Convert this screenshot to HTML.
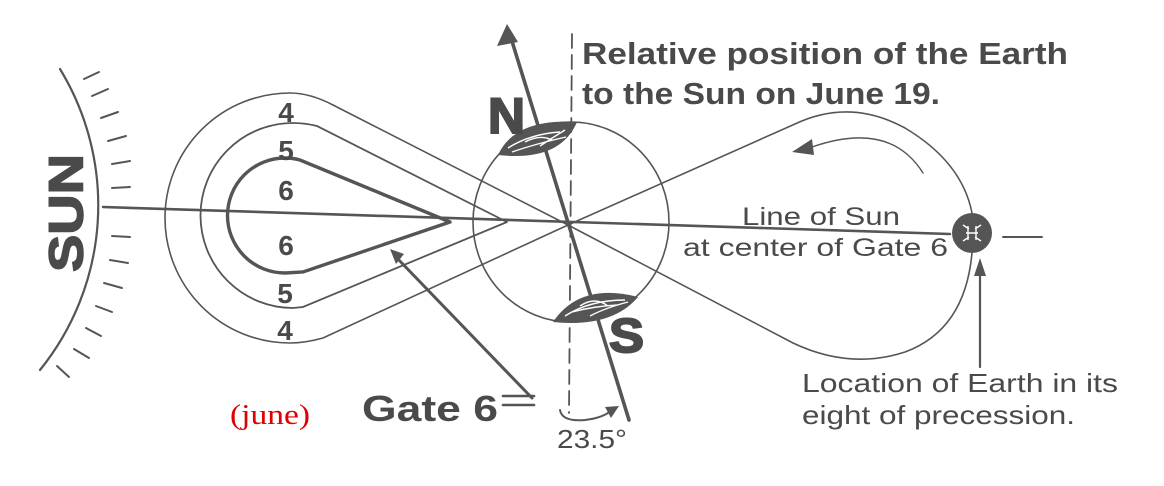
<!DOCTYPE html>
<html><head><meta charset="utf-8"><style>
html,body{margin:0;padding:0;background:#fff;}
svg{display:block;}
text{font-family:"Liberation Sans",Arial,sans-serif;fill:#4a4a4a;}
</style></head><body>
<svg width="1164" height="486" viewBox="0 0 1164 486" xmlns="http://www.w3.org/2000/svg">
<g fill="none" stroke="#555" stroke-linecap="round">
<path d="M60,69 A262,262 0 0 1 40,370" stroke-width="2.2"/>
<g stroke-width="2">
<line x1="84" y1="79" x2="99" y2="72"/>
<line x1="92" y1="96" x2="108" y2="89"/>
<line x1="101" y1="118" x2="118" y2="112"/>
<line x1="108" y1="141" x2="126" y2="136"/>
<line x1="112" y1="164" x2="130" y2="161"/>
<line x1="112" y1="188" x2="130" y2="187"/>
<line x1="112" y1="236" x2="130" y2="237"/>
<line x1="110" y1="260" x2="128" y2="263"/>
<line x1="104" y1="283" x2="122" y2="288"/>
<line x1="96" y1="306" x2="112" y2="312"/>
<line x1="86" y1="328" x2="101" y2="336"/>
<line x1="74" y1="349" x2="89" y2="358"/>
<line x1="57" y1="366" x2="69" y2="377"/>
</g>
<line x1="103" y1="207" x2="950" y2="234" stroke-width="2.6"/>
<path d="M568,225 L333,105 Q310,93 290,93 A125,125 0 0 0 290,343 Q305,343 323,338 L568,225" stroke-width="1.6"/>
<path d="M507,222 L317,126 Q305,123 293,123 A92,92 0 0 0 293,308 L303,307 L507,222" stroke-width="1.8"/>
<path d="M450,222 L300,160 Q293,158 285,158 A57,57 0 0 0 285,273 L303,272 L450,222" stroke-width="3.4"/>
<ellipse cx="571" cy="222" rx="98" ry="100" stroke-width="1.6"/>
<path d="M568,225 L795,124 Q850,98 905,128 Q962,162 972,213" stroke-width="1.6"/>
<path d="M972,253 Q965,330 905,352 Q850,370 793,343 L568,225" stroke-width="1.6"/>
<path d="M923,173 Q890,120 812,147" stroke-width="1.4"/>
<line x1="1003" y1="237" x2="1042" y2="237" stroke-width="2"/>
<line x1="980" y1="367" x2="980" y2="268" stroke-width="2.2"/>
<line x1="572" y1="34" x2="569" y2="413" stroke-width="1.8" stroke-dasharray="14,7"/>
<line x1="396" y1="257" x2="532" y2="398" stroke-width="3"/>
<line x1="503" y1="396" x2="534" y2="396" stroke-width="2.6"/>
<line x1="503" y1="405" x2="534" y2="405" stroke-width="2.6"/>
<path d="M560,410 Q562,422 585,420 Q603,418 612,410" stroke-width="2"/>
</g>
<g fill="#555" stroke="none">
<line x1="511" y1="38" x2="629" y2="420" stroke="#555" stroke-width="3.6" stroke-linecap="round"/>
<polygon points="507,24 497,46 518,42"/>
<path d="M498,155 Q515,118 577,122 Q560,162 498,155 Z"/>
<path d="M553,322 Q580,282 638,297 Q612,328 553,322 Z"/>
<polygon points="792,152 812,139 814,155"/>
<polygon points="980,258 974,276 986,276"/>
<polygon points="390,249 404,254 396,264"/>
<polygon points="619,406 605,407 611,418"/>
<circle cx="972" cy="233" r="20"/>
</g>
<g stroke="#fff" stroke-width="1.4" fill="none">
<path d="M508,148 Q530,134 560,132 M512,152 Q535,144 566,137 M525,142 Q540,134 552,140 M540,146 Q552,138 565,130"/>
<path d="M565,316 Q590,300 625,300 M572,312 Q595,306 618,305 M580,306 Q595,296 608,306 M590,316 Q605,308 628,302"/>
<path d="M963,225 L969,229 M963,241 L969,237 M981,225 L975,229 M981,241 L975,237 M968,226 L968,240 M976,226 L976,240 M966,233 L978,233"/>
</g>
<text x="67" y="213" font-size="48" font-weight="bold" text-anchor="middle" transform="rotate(-90 67 213)" dominant-baseline="central" textLength="118" lengthAdjust="spacingAndGlyphs" stroke="#4a4a4a" stroke-width="1.5">SUN</text>
<g font-size="28" font-weight="bold" text-anchor="middle">
<text x="286" y="122">4</text>
<text x="286" y="160">5</text>
<text x="286" y="200">6</text>
<text x="286" y="255">6</text>
<text x="285" y="303">5</text>
<text x="285" y="340">4</text>
</g>
<text x="488" y="133" font-size="50" font-weight="bold" textLength="37" lengthAdjust="spacingAndGlyphs" stroke="#4a4a4a" stroke-width="2">N</text>
<text x="609" y="352" font-size="48" font-weight="bold" textLength="35" lengthAdjust="spacingAndGlyphs" stroke="#4a4a4a" stroke-width="2">S</text>
<text x="582" y="64" font-size="31" font-weight="bold" textLength="486" lengthAdjust="spacingAndGlyphs">Relative position of the Earth</text>
<text x="582" y="104" font-size="31" font-weight="bold" textLength="358" lengthAdjust="spacingAndGlyphs">to the Sun on June 19.</text>
<text x="742" y="225" font-size="25" textLength="158" lengthAdjust="spacingAndGlyphs">Line of Sun</text>
<text x="683" y="256" font-size="25" textLength="265" lengthAdjust="spacingAndGlyphs">at center of Gate 6</text>
<text x="802" y="392" font-size="26" textLength="316" lengthAdjust="spacingAndGlyphs">Location of Earth in its</text>
<text x="802" y="424" font-size="26" textLength="273" lengthAdjust="spacingAndGlyphs">eight of precession.</text>
<text x="362" y="421" font-size="36" font-weight="bold" textLength="136" lengthAdjust="spacingAndGlyphs">Gate 6</text>
<text x="557" y="448" font-size="26" textLength="70" lengthAdjust="spacingAndGlyphs">23.5°</text>
<text x="230" y="424" font-size="29" style="font-family:'Liberation Serif',serif;fill:#e00000" textLength="80" lengthAdjust="spacingAndGlyphs">(june)</text>
</svg>
</body></html>
